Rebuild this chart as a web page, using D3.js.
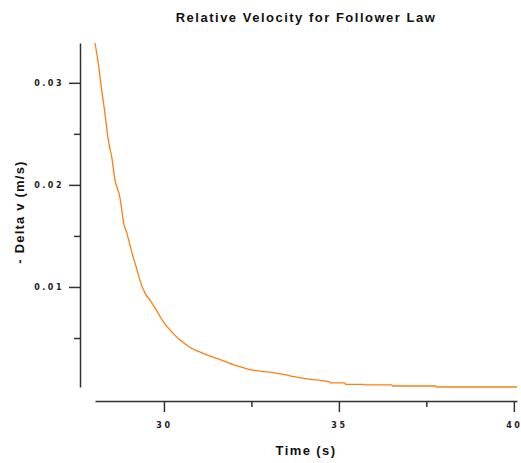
<!DOCTYPE html>
<html>
<head>
<meta charset="utf-8">
<script src="https://cdn.jsdelivr.net/npm/d3@7"></script>
<style>
  body { margin: 0; background: #fff; }
  .tick text { font-family: "DejaVu Sans", sans-serif; font-size: 8px; font-weight: bold; letter-spacing: 2.5px; fill: #222; }
  .axis-label, .title { font-family: "Liberation Sans", Arial, sans-serif; font-weight: bold; fill: #111; }
</style>
</head>
<body>
<div id="container"></div>
<script>
/* DATA */
const time = [28.03, 28.12, 28.22, 28.31, 28.41, 28.51, 28.60, 28.74, 28.79, 28.83, 28.94, 29.09, 29.23, 29.31,
  29.46, 29.60, 29.79, 29.98, 30.17, 30.46, 30.74, 31.12, 31.51, 31.98, 32.46, 33.11, 33.60, 34.09, 34.74,
  34.76, 35.17, 35.19, 35.71, 35.73, 36.51, 36.53, 37.77, 37.79, 40.09];
const deltaV = [0.0339, 0.0320, 0.0293, 0.0271, 0.0244, 0.0227, 0.0205, 0.0188, 0.0177, 0.0166, 0.0153, 0.0133, 0.0117, 0.0107,
  0.0094, 0.0087, 0.0077, 0.0066, 0.0058, 0.0048, 0.0041, 0.0035, 0.0030, 0.0024, 0.0019, 0.0016, 0.0013, 0.0010, 0.0007,
  0.0006, 0.0006, 0.00045, 0.00045, 0.0004, 0.0004, 0.0003, 0.0003, 0.0002, 0.0002];
const xMajor = [30, 35, 40];
const xMinor = [32.5, 37.5];
const yMajor = [0.01, 0.02, 0.03];
const yMinor = [0.005, 0.015, 0.025];

const width = 521, height = 463;

const data = time.map((t, i) => ({ t: t, v: deltaV[i] }));

const xScale = d3.scaleLinear().domain([28.03, 40.09]).range([95, 517]);
const yScale = d3.scaleLinear().domain([0.0002, 0.0339]).range([387, 43]);

const svg = d3.select("#container")
  .append("svg")
  .attr("width", width)
  .attr("height", height);

// x axis
svg.append("g")
  .attr("transform", "translate(0,401)")
  .call(d3.axisBottom(xScale).tickValues(xMajor).tickSize(11).tickSizeOuter(0).tickPadding(10).tickFormat(d3.format("d")));
svg.append("g")
  .attr("transform", "translate(0,401)")
  .call(d3.axisBottom(xScale).tickValues(xMinor).tickSize(6).tickSizeOuter(0).tickFormat(""))
  .select(".domain").remove();

// y axis
svg.append("g")
  .attr("transform", "translate(80,0)")
  .call(d3.axisLeft(yScale).tickValues(yMajor).tickSize(11).tickSizeOuter(0).tickPadding(5).tickFormat(d3.format(".2f")));
svg.append("g")
  .attr("transform", "translate(80,0)")
  .call(d3.axisLeft(yScale).tickValues(yMinor).tickSize(6).tickSizeOuter(0).tickFormat(""))
  .select(".domain").remove();

svg.selectAll(".domain, .tick line").attr("stroke", "#333").attr("stroke-width", 1.5);

// title and labels
svg.append("text")
  .attr("class", "title")
  .attr("x", 306)
  .attr("y", 22)
  .attr("text-anchor", "middle")
  .attr("font-size", 13)
  .attr("letter-spacing", 1.5)
  .text("Relative Velocity for Follower Law");

svg.append("text")
  .attr("class", "axis-label")
  .attr("x", 306)
  .attr("y", 455)
  .attr("text-anchor", "middle")
  .attr("font-size", 13)
  .attr("letter-spacing", 1.4)
  .text("Time (s)");

svg.append("text")
  .attr("class", "axis-label")
  .attr("transform", "translate(24,212) rotate(-90)")
  .attr("text-anchor", "middle")
  .attr("font-size", 13)
  .attr("letter-spacing", 1.2)
  .text("- Delta v (m/s)");

// curve
const line = d3.line()
  .curve(d3.curveMonotoneX)
  .x(d => xScale(d.t))
  .y(d => yScale(d.v));

svg.append("path")
  .datum(data)
  .attr("fill", "none")
  .attr("stroke", "#ff7f0e")
  .attr("stroke-width", 1.3)
  .attr("d", line);
</script>
</body>
</html>
